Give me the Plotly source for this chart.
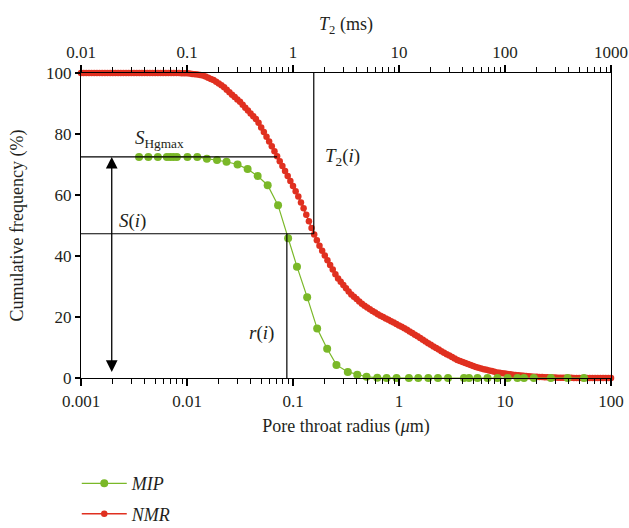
import math
import plotly.graph_objects as go

# ---------------- data ----------------
# MIP: pore throat radius (um) and cumulative frequency (%)
mip_r = [0.00353, 0.00432, 0.00531, 0.00646, 0.00694, 0.00745, 0.00803, 0.0101, 0.0125, 0.0154,
         0.0192, 0.0236, 0.0300, 0.0373, 0.0464, 0.0577, 0.0723, 0.0899, 0.109, 0.136,
         0.169, 0.210, 0.257, 0.329, 0.404, 0.494, 0.624, 0.764, 0.949, 1.24,
         1.52, 1.89, 2.33, 2.90, 4.10, 4.58, 5.50, 6.84, 8.49, 10.6,
         13.1, 15.1, 18.7, 27.1, 39.0, 55.6]
mip_s = [72.5, 72.5, 72.5, 72.5, 72.5, 72.5, 72.5, 72.5, 72.5, 71.9,
         71.5, 70.9, 70.0, 68.5, 66.2, 63.2, 56.6, 45.8, 36.5, 26.5,
         16.2, 9.6, 4.3, 2.0, 1.1, 0.4, 0.1, 0.0, 0.0, 0.0,
         0.0, 0.0, 0.0, 0.0, 0.0, 0.0, 0.0, 0.0, 0.0, 0.0,
         0.0, 0.0, 0.0, 0.0, 0.0, 0.0]

# NMR: equivalent pore radius (um) and cumulative frequency (%)
nmr_r = [
    1.000e-3, 1.059e-3, 1.122e-3, 1.189e-3, 1.259e-3, 1.334e-3, 1.413e-3, 1.496e-3, 1.585e-3, 1.679e-3,
    1.778e-3, 1.884e-3, 1.995e-3, 2.113e-3, 2.239e-3, 2.371e-3, 2.512e-3, 2.661e-3, 2.818e-3, 2.985e-3,
    3.162e-3, 3.350e-3, 3.548e-3, 3.758e-3, 3.981e-3, 4.217e-3, 4.467e-3, 4.732e-3, 5.012e-3, 5.309e-3,
    5.623e-3, 5.957e-3, 6.310e-3, 6.683e-3, 7.079e-3, 7.499e-3, 7.943e-3, 8.414e-3, 8.913e-3, 9.441e-3,
    1.000e-2, 1.059e-2, 1.122e-2, 1.189e-2, 1.259e-2, 1.334e-2, 1.413e-2, 1.496e-2, 1.585e-2, 1.679e-2,
    1.778e-2, 1.884e-2, 1.995e-2, 2.113e-2, 2.239e-2, 2.371e-2, 2.512e-2, 2.661e-2, 2.818e-2, 2.985e-2,
    3.162e-2, 3.350e-2, 3.548e-2, 3.758e-2, 3.981e-2, 4.217e-2, 4.467e-2, 4.732e-2, 5.012e-2, 5.309e-2,
    5.623e-2, 5.957e-2, 6.310e-2, 6.683e-2, 7.079e-2, 7.499e-2, 7.943e-2, 8.414e-2, 8.913e-2, 9.441e-2,
    1.000e-1, 1.059e-1, 1.122e-1, 1.189e-1, 1.259e-1, 1.334e-1, 1.413e-1, 1.496e-1, 1.585e-1, 1.679e-1,
    1.778e-1, 1.884e-1, 1.995e-1, 2.113e-1, 2.239e-1, 2.371e-1, 2.512e-1, 2.661e-1, 2.818e-1, 2.985e-1,
    3.162e-1, 3.350e-1, 3.548e-1, 3.758e-1, 3.981e-1, 4.217e-1, 4.467e-1, 4.732e-1, 5.012e-1, 5.309e-1,
    5.623e-1, 5.957e-1, 6.310e-1, 6.683e-1, 7.079e-1, 7.499e-1, 7.943e-1, 8.414e-1, 8.913e-1, 9.441e-1,
    1.000e0, 1.059e0, 1.122e0, 1.189e0, 1.259e0, 1.334e0, 1.413e0, 1.496e0, 1.585e0, 1.679e0,
    1.778e0, 1.884e0, 1.995e0, 2.113e0, 2.239e0, 2.371e0, 2.512e0, 2.661e0, 2.818e0, 2.985e0,
    3.162e0, 3.350e0, 3.548e0, 3.758e0, 3.981e0, 4.217e0, 4.467e0, 4.732e0, 5.012e0, 5.309e0,
    5.623e0, 5.957e0, 6.310e0, 6.683e0, 7.079e0, 7.499e0, 7.943e0, 8.414e0, 8.913e0, 9.441e0,
    1.000e1, 1.059e1, 1.122e1, 1.189e1, 1.259e1, 1.334e1, 1.413e1, 1.496e1, 1.585e1, 1.679e1,
    1.778e1, 1.884e1, 1.995e1, 2.113e1, 2.239e1, 2.371e1, 2.512e1, 2.661e1, 2.818e1, 2.985e1,
    3.162e1, 3.350e1, 3.548e1, 3.758e1, 3.981e1, 4.217e1, 4.467e1, 4.732e1, 5.012e1, 5.309e1,
    5.623e1, 5.957e1, 6.310e1, 6.683e1, 7.079e1, 7.499e1, 7.943e1, 8.414e1, 8.913e1, 9.441e1,
    1.000e2]
nmr_s = [
    100.0, 100.0, 100.0, 100.0, 100.0, 100.0, 100.0, 100.0, 100.0, 100.0,
    100.0, 100.0, 100.0, 100.0, 100.0, 100.0, 100.0, 100.0, 100.0, 100.0,
    100.0, 100.0, 100.0, 100.0, 100.0, 100.0, 100.0, 100.0, 100.0, 100.0,
    100.0, 100.0, 100.0, 100.0, 100.0, 100.0, 100.0, 99.98, 99.95, 99.92,
    99.90, 99.80, 99.70, 99.60, 99.50, 99.32, 99.14, 98.82, 98.44, 98.07,
    97.70, 97.12, 96.54, 95.96, 95.33, 94.50, 93.67, 92.88, 92.12, 91.35,
    90.59, 89.63, 88.64, 87.67, 86.75, 85.83, 84.90, 83.66, 82.17, 80.68,
    79.13, 77.58, 75.98, 74.34, 72.70, 71.09, 69.47, 67.85, 66.23, 64.60,
    62.92, 61.24, 59.47, 57.57, 55.68, 53.56, 51.42, 49.18, 47.01, 45.18,
    43.36, 41.71, 40.16, 38.62, 37.09, 35.56, 34.04, 32.66, 31.59, 30.51,
    29.44, 28.37, 27.39, 26.63, 25.87, 25.11, 24.35, 23.65, 23.10, 22.55,
    21.99, 21.44, 20.91, 20.45, 19.99, 19.54, 19.08, 18.63, 18.17, 17.71,
    17.25, 16.79, 16.31, 15.78, 15.25, 14.72, 14.19, 13.66, 13.10, 12.55,
    11.99, 11.43, 10.88, 10.36, 9.84, 9.32, 8.80, 8.28, 7.81, 7.34,
    6.86, 6.39, 5.92, 5.58, 5.25, 4.92, 4.59, 4.26, 3.93, 3.60,
    3.32, 3.10, 2.89, 2.68, 2.47, 2.26, 2.05, 1.83, 1.70, 1.58,
    1.46, 1.34, 1.22, 1.10, 0.99, 0.88, 0.81, 0.73, 0.66, 0.59,
    0.52, 0.44, 0.37, 0.33, 0.29, 0.26, 0.23, 0.19, 0.16, 0.13,
    0.10, 0.09, 0.08, 0.07, 0.06, 0.05, 0.04, 0.03, 0.02, 0.02,
    0.02, 0.01, 0.01, 0.01, 0.01, 0.01, 0.0, 0.0, 0.0, 0.0,
    0.0]
assert len(nmr_r) == len(nmr_s) and len(mip_r) == len(mip_s)

# reference values marked on the chart
s_hgmax = 72.5        # maximum mercury saturation (%)
s_i = 47.3            # S(i) (%)
r_i = 0.0875          # r(i) (um)
t2_i = 1.57           # T2(i) (ms)
r_of_t2_i = 0.157     # radius where NMR curve reaches S(i)
r_hg_end = 0.0708     # radius where NMR curve reaches S_Hgmax
r_arrow = 0.00195     # position of double arrow (um)
s_arrow_bottom = 1.5

bottom_ticks = [0.001, 0.01, 0.1, 1, 10, 100]
bottom_text = ["0.001", "0.01", "0.1", "1", "10", "100"]
top_ticks = [0.01, 0.1, 1, 10, 100, 1000]
top_text = ["0.01", "0.1", "1", "10", "100", "1000"]
y_ticks = [0, 20, 40, 60, 80, 100]

# minor tick positions (2..9 within each decade) -- axis styling only
bottom_minor = [d * m for d in bottom_ticks[:-1] for m in range(2, 10)]
top_minor = [d * m for d in top_ticks[:-1] for m in range(2, 10)]

# ---------------- style ----------------
FONT = "Liberation Serif"
INK = "#000000"
GREEN = "#7ab828"
RED = "#e03020"

fig = go.Figure()

fig.add_trace(go.Scatter(
    x=nmr_r, y=nmr_s, mode="lines+markers", name="<i>NMR</i>",
    line=dict(color=RED, width=1.5), marker=dict(color=RED, size=6.5),
    cliponaxis=False, legendrank=2, legendgroup="b"))
fig.add_trace(go.Scatter(
    x=mip_r, y=mip_s, mode="lines+markers", name="<i>MIP</i>",
    line=dict(color=GREEN, width=1.2), marker=dict(color=GREEN, size=8),
    cliponaxis=False, legendrank=1, legendgroup="a"))

ref = dict(mode="lines", line=dict(color=INK, width=1.2), showlegend=False, hoverinfo="skip")
fig.add_trace(go.Scatter(x=[bottom_ticks[0], r_hg_end], y=[s_hgmax, s_hgmax], **ref))
fig.add_trace(go.Scatter(x=[bottom_ticks[0], r_of_t2_i], y=[s_i, s_i], **ref))
fig.add_trace(go.Scatter(x=[r_i, r_i], y=[0, s_i], **ref))
fig.add_trace(go.Scatter(x=[t2_i, t2_i], y=[s_i, 100], xaxis="x2", **ref))
# placeholders so the minor-tick axes are drawn (no visible marks)
fig.add_trace(go.Scatter(x=[bottom_ticks[0]], y=[None], xaxis="x3", mode="markers",
                         showlegend=False, hoverinfo="skip"))
fig.add_trace(go.Scatter(x=[top_ticks[0]], y=[None], xaxis="x4", mode="markers",
                         showlegend=False, hoverinfo="skip"))

axis_common = dict(
    type="log", showline=True, linecolor=INK, linewidth=1.2, showgrid=False,
    zeroline=False, ticks="outside", ticklen=7, tickwidth=1.5, tickcolor=INK,
    tickfont=dict(family=FONT, size=17, color="#231f20"), automargin=False,
)
minor_axis = dict(
    type="log", overlaying="x", anchor="y", showline=False, showgrid=False, zeroline=False,
    ticks="outside", ticklen=5, tickwidth=1.4, tickcolor=INK, showticklabels=False,
    automargin=False, fixedrange=True,
)

fig.update_layout(
    width=629, height=528,
    margin=dict(l=81, r=18, t=73, b=150, autoexpand=False),
    paper_bgcolor="white", plot_bgcolor="white",
    font=dict(family=FONT, size=17, color="#231f20"),
    xaxis=dict(range=[math.log10(bottom_ticks[0]), math.log10(bottom_ticks[-1])],
               tickvals=bottom_ticks, ticktext=bottom_text,
               title=dict(text="Pore throat radius (<i>μ</i>m)", font=dict(family=FONT, size=18, color="#231f20"), standoff=9),
               **axis_common),
    xaxis2=dict(range=[math.log10(top_ticks[0]), math.log10(top_ticks[-1])],
                overlaying="x", side="top", anchor="y",
                tickvals=top_ticks, ticktext=top_text,
                title=dict(text="<i>T</i><sub>2</sub> (ms)", font=dict(family=FONT, size=18, color="#231f20"), standoff=7),
                **axis_common),
    xaxis3=dict(range=[math.log10(bottom_ticks[0]), math.log10(bottom_ticks[-1])],
                side="bottom", tickvals=bottom_minor, **minor_axis),
    xaxis4=dict(range=[math.log10(top_ticks[0]), math.log10(top_ticks[-1])],
                side="top", tickvals=top_minor, **minor_axis),
    yaxis=dict(range=[0, 100], tickvals=y_ticks, showline=True, linecolor=INK, linewidth=1.2,
               mirror=True, showgrid=False, zeroline=False, ticks="outside", ticklen=5,
               tickwidth=1.5, tickcolor=INK, tickfont=dict(family=FONT, size=17, color="#231f20"),
               automargin=False,
               title=dict(text="Cumulative frequency (%)", font=dict(family=FONT, size=18, color="#231f20"), standoff=17)),
    legend=dict(x=-0.008, y=0.119, xref="paper", yref="container", xanchor="left", yanchor="top",
                font=dict(family=FONT, size=18, color="#231f20"), itemwidth=45,
                tracegroupgap=4, bgcolor="rgba(0,0,0,0)"),
    showlegend=True,
)

# double arrow
fig.add_annotation(x=math.log10(r_arrow), y=s_hgmax, ax=math.log10(r_arrow), ay=s_arrow_bottom,
                   xref="x", yref="y", axref="x", ayref="y", text="", showarrow=True,
                   arrowside="end+start", arrowhead=2, arrowwidth=1.3, arrowsize=1.8,
                   arrowcolor=INK, standoff=0, startstandoff=0)

lab = dict(xref="x", yref="y", showarrow=False, font=dict(family=FONT, size=19, color="#231f20"))
fig.add_annotation(x=math.log10(0.0031), y=78.5, text="<i>S</i><sub>Hgmax</sub>", xanchor="left", yanchor="middle", **lab)
fig.add_annotation(x=math.log10(r_of_t2_i) + 0.09, y=72.5, text="<i>T</i><sub>2</sub>(<i>i</i>)", xanchor="left", yanchor="middle", **lab)
fig.add_annotation(x=math.log10(0.0022), y=51.5, text="<i>S</i>(<i>i</i>)", xanchor="left", yanchor="middle", **lab)
fig.add_annotation(x=math.log10(r_i) - 0.1, y=14.8, text="<i>r</i>(<i>i</i>)", xanchor="right", yanchor="middle", **lab)

fig.write_html("out.html")
